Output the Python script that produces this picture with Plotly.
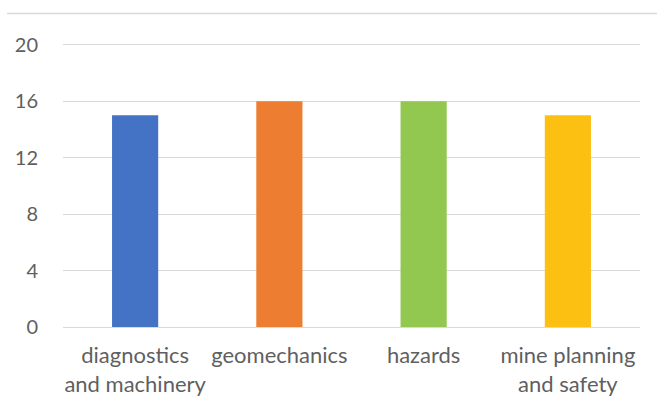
import plotly.graph_objects as go

# Article counts per research topic
categories = [
    "diagnostics<br>and machinery",
    "geomechanics",
    "hazards",
    "mine planning<br>and safety",
]
counts = [15, 16, 16, 15]
bar_colors = ["#4472C4", "#ED7D31", "#92C850", "#FCC013"]
y_ticks = [0, 4, 8, 12, 16, 20]

fig = go.Figure(
    go.Bar(
        x=categories,
        y=counts,
        marker=dict(color=bar_colors, line=dict(width=0)),
        width=0.32,
        hoverinfo="x+y",
    )
)

family = "Lato, 'Open Sans', sans-serif"
y_font = dict(family=family, size=20, color="#5f5f5f")
x_font = dict(family=family, size=22, color="#5f5f5f")

fig.update_layout(
    width=657,
    height=410,
    margin=dict(l=63, r=17, t=42, b=83),
    paper_bgcolor="white",
    plot_bgcolor="white",
    showlegend=False,
    font=y_font,
    xaxis=dict(
        showgrid=False,
        showline=False,
        ticks="",
        tickfont=x_font,
        ticklabelstandoff=13,
        fixedrange=True,
    ),
    yaxis=dict(
        range=[0, 20.2],
        tickvals=y_ticks,
        showgrid=True,
        gridcolor="#D9D9D9",
        gridwidth=1,
        zeroline=True,
        zerolinecolor="#D9D9D9",
        zerolinewidth=1,
        showline=False,
        ticks="",
        tickfont=y_font,
        ticklabelstandoff=24,
        fixedrange=True,
    ),
    shapes=[
        # chart frame edge along the top
        dict(
            type="line",
            xref="paper",
            yref="paper",
            x0=-0.097,
            x1=1.04,
            y0=1.1,
            y1=1.1,
            line=dict(color="#D9D9D9", width=1.5),
        )
    ],
)

fig.write_html("out.html")
